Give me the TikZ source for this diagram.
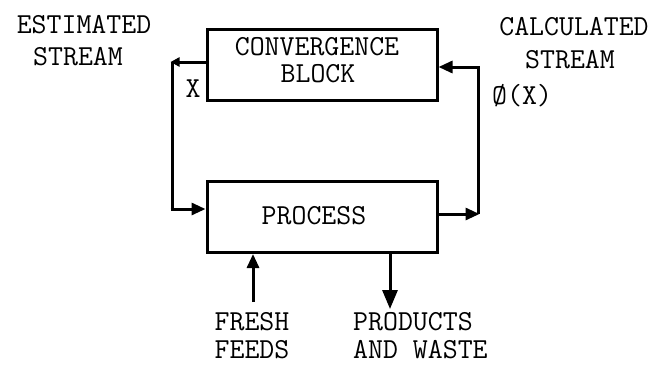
\documentclass[tikz,border=0pt]{standalone}
\usetikzlibrary{arrows.meta}
\begin{document}
\begin{tikzpicture}[x=1pt,y=-1pt,
  txt/.style={font=\fontsize{29}{32}\selectfont\ttfamily, inner sep=0pt, anchor=base},
  blk/.style={draw, line width=3pt, minimum width=230pt, minimum height=71pt, inner sep=0pt},
  flow/.style={line width=3pt, -{Triangle[length=14pt,width=12pt]}},
  smallflow/.style={line width=3pt, -{Triangle[length=9pt,width=9pt]}},
  plain/.style={line width=3pt, line join=round},
  bigflow/.style={line width=3pt, -{Triangle[length=19pt,width=15pt]}}]
\useasboundingbox (0,0) rectangle (655,364);
\node[blk] (conv) at (322,64.5) {};
\node[blk] (proc) at (322,217) {};
\node[txt] (t1) at (317,55) {CONVERGENCE};
\node[txt] (t2) at (318,82) {BLOCK};
\node[txt] (t3) at (314,224) {PROCESS};
\node[txt] (e1) at (84,33) {ESTIMATED};
\node[txt] (e2) at (78,65) {STREAM};
\node[txt] (c1) at (574,35) {CALCULATED};
\node[txt] (c2) at (570,68) {STREAM};
\node[txt, anchor=base west] (phi) at (492,104) {\O(X)};
\node[txt] (xl) at (193,97) {X};
\node[txt] (f1) at (252,330) {FRESH};
\node[txt] (f2) at (252,358) {FEEDS};
\node[txt, anchor=base west] (p1) at (353,330) {PRODUCTS};
\node[txt, anchor=base west] (p2) at (353,358) {AND WASTE};
\coordinate (lc) at (172,62);
\coordinate (lb) at (172,209);
\coordinate (rc) at (478,214);
\coordinate (rt) at (478,67);
\coordinate (fin) at (253,302);
\coordinate (pout) at (390,309);
\draw[smallflow] ([yshift=2.5pt]conv.west) -- ([xshift=-1.5pt]lc);
\draw[plain] (lc) -- (lb);
\draw[flow] ([xshift=-1.5pt]lb) -- ([yshift=8pt]proc.west);
\draw[flow] ([yshift=3pt]proc.east) -- ([xshift=1.5pt]rc);
\draw[plain] (rc) -- (rt);
\draw[flow] ([xshift=1.5pt]rt) -- ([yshift=-2.5pt]conv.east);
\draw[flow] (fin) -- (fin |- proc.south);
\draw[bigflow] (pout |- proc.south) -- (pout);
\end{tikzpicture}
\end{document}
